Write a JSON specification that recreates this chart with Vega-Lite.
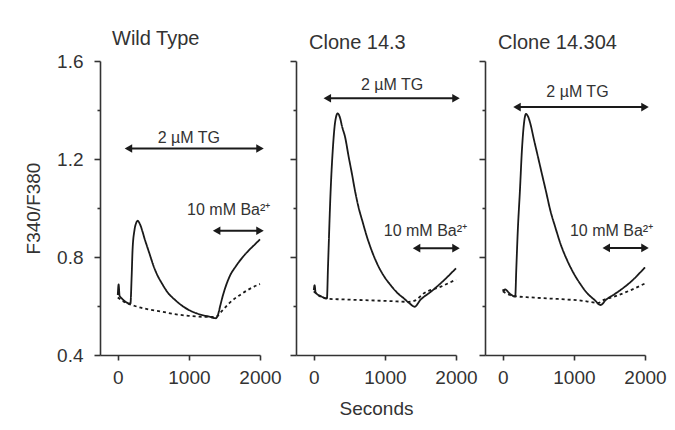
{
  "$schema": "https://vega.github.io/schema/vega-lite/v6.json",
  "padding": {"left": 24, "top": 29, "right": 5, "bottom": 5},
  "background": "white",
  "bounds": "flush",
  "spacing": 36,
  "config": {
    "view": {"stroke": null},
    "font": "Liberation Sans",
    "title": {"fontSize": 20, "fontWeight": "normal", "anchor": "start", "frame": "group", "offset": 7, "dx": 13, "color": "#333", "font": "Liberation Sans"},
    "axis": {"domainColor": "#333", "domainWidth": 1.6, "tickColor": "#333", "tickWidth": 1.6, "labelColor": "#333", "labelFont": "Liberation Sans", "labelFontSize": 19, "titleFont": "Liberation Sans", "titleFontSize": 19, "titleFontWeight": "normal", "titleColor": "#333", "grid": false, "labelFlush": false, "labelOverlap": false}
  },
  "datasets": {
    "curves": [
      {"panel": "WT", "series": "solid", "t": 0, "v": 0.645},
      {"panel": "WT", "series": "solid", "t": 12, "v": 0.688},
      {"panel": "WT", "series": "solid", "t": 25, "v": 0.642},
      {"panel": "WT", "series": "solid", "t": 60, "v": 0.63},
      {"panel": "WT", "series": "solid", "t": 120, "v": 0.615},
      {"panel": "WT", "series": "solid", "t": 178, "v": 0.61},
      {"panel": "WT", "series": "solid", "t": 195, "v": 0.72},
      {"panel": "WT", "series": "solid", "t": 208, "v": 0.83},
      {"panel": "WT", "series": "solid", "t": 235, "v": 0.91},
      {"panel": "WT", "series": "solid", "t": 260, "v": 0.94},
      {"panel": "WT", "series": "solid", "t": 280, "v": 0.948},
      {"panel": "WT", "series": "solid", "t": 310, "v": 0.935},
      {"panel": "WT", "series": "solid", "t": 383, "v": 0.869},
      {"panel": "WT", "series": "solid", "t": 450, "v": 0.81},
      {"panel": "WT", "series": "solid", "t": 501, "v": 0.765},
      {"panel": "WT", "series": "solid", "t": 560, "v": 0.724},
      {"panel": "WT", "series": "solid", "t": 619, "v": 0.693},
      {"panel": "WT", "series": "solid", "t": 700, "v": 0.656},
      {"panel": "WT", "series": "solid", "t": 809, "v": 0.624},
      {"panel": "WT", "series": "solid", "t": 900, "v": 0.602},
      {"panel": "WT", "series": "solid", "t": 998, "v": 0.584},
      {"panel": "WT", "series": "solid", "t": 1100, "v": 0.571},
      {"panel": "WT", "series": "solid", "t": 1187, "v": 0.563},
      {"panel": "WT", "series": "solid", "t": 1280, "v": 0.557},
      {"panel": "WT", "series": "solid", "t": 1380, "v": 0.55},
      {"panel": "WT", "series": "solid", "t": 1410, "v": 0.565},
      {"panel": "WT", "series": "solid", "t": 1440, "v": 0.6},
      {"panel": "WT", "series": "solid", "t": 1480, "v": 0.645},
      {"panel": "WT", "series": "solid", "t": 1518, "v": 0.68},
      {"panel": "WT", "series": "solid", "t": 1580, "v": 0.725},
      {"panel": "WT", "series": "solid", "t": 1660, "v": 0.762},
      {"panel": "WT", "series": "solid", "t": 1750, "v": 0.797},
      {"panel": "WT", "series": "solid", "t": 1849, "v": 0.829},
      {"panel": "WT", "series": "solid", "t": 1930, "v": 0.852},
      {"panel": "WT", "series": "solid", "t": 2000, "v": 0.872},
      {"panel": "WT", "series": "dotted", "t": 0, "v": 0.635},
      {"panel": "WT", "series": "dotted", "t": 100, "v": 0.615},
      {"panel": "WT", "series": "dotted", "t": 241, "v": 0.6},
      {"panel": "WT", "series": "dotted", "t": 400, "v": 0.588},
      {"panel": "WT", "series": "dotted", "t": 619, "v": 0.577},
      {"panel": "WT", "series": "dotted", "t": 800, "v": 0.567},
      {"panel": "WT", "series": "dotted", "t": 998, "v": 0.56},
      {"panel": "WT", "series": "dotted", "t": 1200, "v": 0.556},
      {"panel": "WT", "series": "dotted", "t": 1380, "v": 0.556},
      {"panel": "WT", "series": "dotted", "t": 1450, "v": 0.575},
      {"panel": "WT", "series": "dotted", "t": 1565, "v": 0.611},
      {"panel": "WT", "series": "dotted", "t": 1754, "v": 0.652},
      {"panel": "WT", "series": "dotted", "t": 1967, "v": 0.686},
      {"panel": "WT", "series": "dotted", "t": 2000, "v": 0.69},
      {"panel": "C143", "series": "solid", "t": 0, "v": 0.665},
      {"panel": "C143", "series": "solid", "t": 12, "v": 0.685},
      {"panel": "C143", "series": "solid", "t": 25, "v": 0.655},
      {"panel": "C143", "series": "solid", "t": 100, "v": 0.64},
      {"panel": "C143", "series": "solid", "t": 185, "v": 0.631},
      {"panel": "C143", "series": "solid", "t": 200, "v": 0.76},
      {"panel": "C143", "series": "solid", "t": 237, "v": 1.07},
      {"panel": "C143", "series": "solid", "t": 270, "v": 1.25},
      {"panel": "C143", "series": "solid", "t": 300, "v": 1.35},
      {"panel": "C143", "series": "solid", "t": 336, "v": 1.386},
      {"panel": "C143", "series": "solid", "t": 365, "v": 1.372},
      {"panel": "C143", "series": "solid", "t": 400, "v": 1.33},
      {"panel": "C143", "series": "solid", "t": 440, "v": 1.29},
      {"panel": "C143", "series": "solid", "t": 490, "v": 1.21},
      {"panel": "C143", "series": "solid", "t": 535, "v": 1.142},
      {"panel": "C143", "series": "solid", "t": 580, "v": 1.07},
      {"panel": "C143", "series": "solid", "t": 628, "v": 1.005},
      {"panel": "C143", "series": "solid", "t": 690, "v": 0.94},
      {"panel": "C143", "series": "solid", "t": 747, "v": 0.883},
      {"panel": "C143", "series": "solid", "t": 820, "v": 0.822},
      {"panel": "C143", "series": "solid", "t": 889, "v": 0.774},
      {"panel": "C143", "series": "solid", "t": 980, "v": 0.725},
      {"panel": "C143", "series": "solid", "t": 1078, "v": 0.686},
      {"panel": "C143", "series": "solid", "t": 1170, "v": 0.655},
      {"panel": "C143", "series": "solid", "t": 1267, "v": 0.631},
      {"panel": "C143", "series": "solid", "t": 1350, "v": 0.61},
      {"panel": "C143", "series": "solid", "t": 1418, "v": 0.597},
      {"panel": "C143", "series": "solid", "t": 1500, "v": 0.625},
      {"panel": "C143", "series": "solid", "t": 1645, "v": 0.658},
      {"panel": "C143", "series": "solid", "t": 1834, "v": 0.706},
      {"panel": "C143", "series": "solid", "t": 2000, "v": 0.754},
      {"panel": "C143", "series": "dotted", "t": 0, "v": 0.66},
      {"panel": "C143", "series": "dotted", "t": 60, "v": 0.645},
      {"panel": "C143", "series": "dotted", "t": 180, "v": 0.63},
      {"panel": "C143", "series": "dotted", "t": 400, "v": 0.627},
      {"panel": "C143", "series": "dotted", "t": 600, "v": 0.625},
      {"panel": "C143", "series": "dotted", "t": 1078, "v": 0.62},
      {"panel": "C143", "series": "dotted", "t": 1336, "v": 0.617},
      {"panel": "C143", "series": "dotted", "t": 1420, "v": 0.622},
      {"panel": "C143", "series": "dotted", "t": 1550, "v": 0.652},
      {"panel": "C143", "series": "dotted", "t": 1787, "v": 0.679},
      {"panel": "C143", "series": "dotted", "t": 2000, "v": 0.708},
      {"panel": "C14304", "series": "solid", "t": 0, "v": 0.668},
      {"panel": "C14304", "series": "solid", "t": 15, "v": 0.662},
      {"panel": "C14304", "series": "solid", "t": 30, "v": 0.668},
      {"panel": "C14304", "series": "solid", "t": 100, "v": 0.65},
      {"panel": "C14304", "series": "solid", "t": 175, "v": 0.638},
      {"panel": "C14304", "series": "solid", "t": 190, "v": 0.75},
      {"panel": "C14304", "series": "solid", "t": 210, "v": 0.9},
      {"panel": "C14304", "series": "solid", "t": 241, "v": 1.07},
      {"panel": "C14304", "series": "solid", "t": 270, "v": 1.24},
      {"panel": "C14304", "series": "solid", "t": 300, "v": 1.35},
      {"panel": "C14304", "series": "solid", "t": 326, "v": 1.384},
      {"panel": "C14304", "series": "solid", "t": 360, "v": 1.37},
      {"panel": "C14304", "series": "solid", "t": 400, "v": 1.33},
      {"panel": "C14304", "series": "solid", "t": 430, "v": 1.29},
      {"panel": "C14304", "series": "solid", "t": 490, "v": 1.215},
      {"panel": "C14304", "series": "solid", "t": 548, "v": 1.142},
      {"panel": "C14304", "series": "solid", "t": 610, "v": 1.065},
      {"panel": "C14304", "series": "solid", "t": 667, "v": 0.992},
      {"panel": "C14304", "series": "solid", "t": 740, "v": 0.92},
      {"panel": "C14304", "series": "solid", "t": 809, "v": 0.856},
      {"panel": "C14304", "series": "solid", "t": 900, "v": 0.79},
      {"panel": "C14304", "series": "solid", "t": 998, "v": 0.733},
      {"panel": "C14304", "series": "solid", "t": 1090, "v": 0.69},
      {"panel": "C14304", "series": "solid", "t": 1187, "v": 0.652},
      {"panel": "C14304", "series": "solid", "t": 1290, "v": 0.625},
      {"panel": "C14304", "series": "solid", "t": 1376, "v": 0.604},
      {"panel": "C14304", "series": "solid", "t": 1450, "v": 0.625},
      {"panel": "C14304", "series": "solid", "t": 1565, "v": 0.647},
      {"panel": "C14304", "series": "solid", "t": 1700, "v": 0.675},
      {"panel": "C14304", "series": "solid", "t": 1801, "v": 0.699},
      {"panel": "C14304", "series": "solid", "t": 2000, "v": 0.758},
      {"panel": "C14304", "series": "dotted", "t": 0, "v": 0.66},
      {"panel": "C14304", "series": "dotted", "t": 100, "v": 0.645},
      {"panel": "C14304", "series": "dotted", "t": 170, "v": 0.64},
      {"panel": "C14304", "series": "dotted", "t": 400, "v": 0.635},
      {"panel": "C14304", "series": "dotted", "t": 630, "v": 0.631},
      {"panel": "C14304", "series": "dotted", "t": 1100, "v": 0.622},
      {"panel": "C14304", "series": "dotted", "t": 1350, "v": 0.613},
      {"panel": "C14304", "series": "dotted", "t": 1420, "v": 0.625},
      {"panel": "C14304", "series": "dotted", "t": 1565, "v": 0.638},
      {"panel": "C14304", "series": "dotted", "t": 1801, "v": 0.665},
      {"panel": "C14304", "series": "dotted", "t": 2000, "v": 0.692}
    ],
    "arrows": [
      {"panel": "WT", "x1": 150, "x2": 2000, "y": 1.243, "lx": 1000, "ly": 1.285, "label": "2 µM TG"},
      {"panel": "WT", "x1": 1390, "x2": 2000, "y": 0.907, "lx": 1560, "ly": 0.99, "label": "10 mM Ba²⁺"},
      {"panel": "C143", "x1": 190, "x2": 2000, "y": 1.448, "lx": 1100, "ly": 1.502, "label": "2 µM TG"},
      {"panel": "C143", "x1": 1445, "x2": 2000, "y": 0.836, "lx": 1570, "ly": 0.906, "label": "10 mM Ba²⁺"},
      {"panel": "C14304", "x1": 200, "x2": 2000, "y": 1.412, "lx": 1050, "ly": 1.473, "label": "2 µM TG"},
      {"panel": "C14304", "x1": 1455, "x2": 2000, "y": 0.837, "lx": 1530, "ly": 0.906, "label": "10 mM Ba²⁺"}
    ]
  },
  "hconcat": [
    {
      "width": 160, "height": 294,
      "title": {"text": "Wild Type", "offset": 3, "dx": 12},
      "layer": [
        {
          "data": {"name": "curves"},
          "transform": [{"filter": "datum.panel === 'WT'"}],
          "mark": {"type": "line", "interpolate": "monotone", "color": "#1a1a1a", "strokeWidth": 1.8},
          "encoding": {
            "x": {"field": "t", "type": "quantitative", "scale": {"domain": [-250, 2000], "nice": false},
              "axis": {"title": null, "values": [0, 250, 500, 750, 1000, 1250, 1500, 1750, 2000], "format": "d", "labelExpr": "datum.value % 1000 === 0 ? datum.label : ''", "tickSize": {"condition": {"test": "datum.value % 1000 === 0", "value": 5}, "value": 3}, "labelPadding": 8}},
            "y": {"field": "v", "type": "quantitative", "scale": {"domain": [0.4, 1.6], "nice": false, "zero": false},
              "axis": {"title": "F340/F380", "titlePadding": 13, "values": [0.4, 0.5, 0.6, 0.7, 0.8, 0.9, 1.0, 1.1, 1.2, 1.3, 1.4, 1.5, 1.6], "format": ".1f", "labelExpr": "indexof([0.4, 0.8, 1.2, 1.6], datum.value) >= 0 ? datum.label : ''", "tickSize": {"condition": {"test": "indexof([0.4, 0.8, 1.2, 1.6], datum.value) >= 0", "value": 6}, "value": 3}, "labelPadding": 11}},
            "detail": {"field": "series"},
            "strokeDash": {"field": "series", "type": "nominal", "scale": {"domain": ["solid", "dotted"], "range": [[1, 0], [3, 3]]}, "legend": null}
          }
        },
        {
          "data": {"name": "arrows"},
          "transform": [{"filter": "datum.panel === 'WT'"}],
          "mark": {"type": "rule", "color": "#1a1a1a", "strokeWidth": 2},
          "encoding": {"x": {"field": "x1", "type": "quantitative"}, "x2": {"field": "x2"}, "y": {"field": "y", "type": "quantitative"}}
        },
        {
          "data": {"name": "arrows"},
          "transform": [{"filter": "datum.panel === 'WT'"}],
          "mark": {"type": "point", "shape": "triangle-left", "filled": true, "color": "#1a1a1a", "size": 75, "opacity": 1},
          "encoding": {"x": {"field": "x1", "type": "quantitative"}, "y": {"field": "y", "type": "quantitative"}}
        },
        {
          "data": {"name": "arrows"},
          "transform": [{"filter": "datum.panel === 'WT'"}],
          "mark": {"type": "point", "shape": "triangle-right", "filled": true, "color": "#1a1a1a", "size": 75, "opacity": 1},
          "encoding": {"x": {"field": "x2", "type": "quantitative"}, "y": {"field": "y", "type": "quantitative"}}
        },
        {
          "data": {"name": "arrows"},
          "transform": [{"filter": "datum.panel === 'WT'"}],
          "mark": {"type": "text", "fontSize": 16, "color": "#333", "font": "Liberation Sans", "baseline": "middle"},
          "encoding": {"x": {"field": "lx", "type": "quantitative"}, "y": {"field": "ly", "type": "quantitative"}, "text": {"field": "label"}}
        }
      ]
    },
    {
      "bounds": "flush",
      "spacing": 29,
      "hconcat": [
        {
          "width": 160, "height": 294,
          "title": {"text": "Clone 14.3"},
          "layer": [
            {
              "data": {"name": "curves"},
              "transform": [{"filter": "datum.panel === 'C143'"}],
              "mark": {"type": "line", "interpolate": "monotone", "color": "#1a1a1a", "strokeWidth": 1.8},
              "encoding": {
                "x": {"field": "t", "type": "quantitative", "scale": {"domain": [-250, 2000], "nice": false},
                  "axis": {"title": "Seconds", "titlePadding": 12, "values": [0, 250, 500, 750, 1000, 1250, 1500, 1750, 2000], "format": "d", "labelExpr": "datum.value % 1000 === 0 ? datum.label : ''", "tickSize": {"condition": {"test": "datum.value % 1000 === 0", "value": 5}, "value": 3}, "labelPadding": 8}},
                "y": {"field": "v", "type": "quantitative", "scale": {"domain": [0.4, 1.6], "nice": false, "zero": false},
                  "axis": {"title": null, "labels": false, "values": [0.4, 0.5, 0.6, 0.7, 0.8, 0.9, 1.0, 1.1, 1.2, 1.3, 1.4, 1.5, 1.6], "tickSize": {"condition": {"test": "indexof([0.4, 0.8, 1.2, 1.6], datum.value) >= 0", "value": 6}, "value": 3}}},
                "detail": {"field": "series"},
                "strokeDash": {"field": "series", "type": "nominal", "scale": {"domain": ["solid", "dotted"], "range": [[1, 0], [3, 3]]}, "legend": null}
              }
            },
            {
              "data": {"name": "arrows"},
              "transform": [{"filter": "datum.panel === 'C143'"}],
              "mark": {"type": "rule", "color": "#1a1a1a", "strokeWidth": 2},
              "encoding": {"x": {"field": "x1", "type": "quantitative"}, "x2": {"field": "x2"}, "y": {"field": "y", "type": "quantitative"}}
            },
            {
              "data": {"name": "arrows"},
              "transform": [{"filter": "datum.panel === 'C143'"}],
              "mark": {"type": "point", "shape": "triangle-left", "filled": true, "color": "#1a1a1a", "size": 75, "opacity": 1},
              "encoding": {"x": {"field": "x1", "type": "quantitative"}, "y": {"field": "y", "type": "quantitative"}}
            },
            {
              "data": {"name": "arrows"},
              "transform": [{"filter": "datum.panel === 'C143'"}],
              "mark": {"type": "point", "shape": "triangle-right", "filled": true, "color": "#1a1a1a", "size": 75, "opacity": 1},
              "encoding": {"x": {"field": "x2", "type": "quantitative"}, "y": {"field": "y", "type": "quantitative"}}
            },
            {
              "data": {"name": "arrows"},
              "transform": [{"filter": "datum.panel === 'C143'"}],
              "mark": {"type": "text", "fontSize": 16, "color": "#333", "font": "Liberation Sans", "baseline": "middle"},
              "encoding": {"x": {"field": "lx", "type": "quantitative"}, "y": {"field": "ly", "type": "quantitative"}, "text": {"field": "label"}}
            }
          ]
        },
        {
          "width": 160, "height": 294,
          "title": {"text": "Clone 14.304"},
          "layer": [
            {
              "data": {"name": "curves"},
              "transform": [{"filter": "datum.panel === 'C14304'"}],
              "mark": {"type": "line", "interpolate": "monotone", "color": "#1a1a1a", "strokeWidth": 1.8},
              "encoding": {
                "x": {"field": "t", "type": "quantitative", "scale": {"domain": [-250, 2000], "nice": false},
                  "axis": {"title": null, "values": [0, 250, 500, 750, 1000, 1250, 1500, 1750, 2000], "format": "d", "labelExpr": "datum.value % 1000 === 0 ? datum.label : ''", "tickSize": {"condition": {"test": "datum.value % 1000 === 0", "value": 5}, "value": 3}, "labelPadding": 8}},
                "y": {"field": "v", "type": "quantitative", "scale": {"domain": [0.4, 1.6], "nice": false, "zero": false},
                  "axis": {"title": null, "labels": false, "values": [0.4, 0.5, 0.6, 0.7, 0.8, 0.9, 1.0, 1.1, 1.2, 1.3, 1.4, 1.5, 1.6], "tickSize": {"condition": {"test": "indexof([0.4, 0.8, 1.2, 1.6], datum.value) >= 0", "value": 6}, "value": 3}}},
                "detail": {"field": "series"},
                "strokeDash": {"field": "series", "type": "nominal", "scale": {"domain": ["solid", "dotted"], "range": [[1, 0], [3, 3]]}, "legend": null}
              }
            },
            {
              "data": {"name": "arrows"},
              "transform": [{"filter": "datum.panel === 'C14304'"}],
              "mark": {"type": "rule", "color": "#1a1a1a", "strokeWidth": 2},
              "encoding": {"x": {"field": "x1", "type": "quantitative"}, "x2": {"field": "x2"}, "y": {"field": "y", "type": "quantitative"}}
            },
            {
              "data": {"name": "arrows"},
              "transform": [{"filter": "datum.panel === 'C14304'"}],
              "mark": {"type": "point", "shape": "triangle-left", "filled": true, "color": "#1a1a1a", "size": 75, "opacity": 1},
              "encoding": {"x": {"field": "x1", "type": "quantitative"}, "y": {"field": "y", "type": "quantitative"}}
            },
            {
              "data": {"name": "arrows"},
              "transform": [{"filter": "datum.panel === 'C14304'"}],
              "mark": {"type": "point", "shape": "triangle-right", "filled": true, "color": "#1a1a1a", "size": 75, "opacity": 1},
              "encoding": {"x": {"field": "x2", "type": "quantitative"}, "y": {"field": "y", "type": "quantitative"}}
            },
            {
              "data": {"name": "arrows"},
              "transform": [{"filter": "datum.panel === 'C14304'"}],
              "mark": {"type": "text", "fontSize": 16, "color": "#333", "font": "Liberation Sans", "baseline": "middle"},
              "encoding": {"x": {"field": "lx", "type": "quantitative"}, "y": {"field": "ly", "type": "quantitative"}, "text": {"field": "label"}}
            }
          ]
        }
      ]
    }
  ]
}
